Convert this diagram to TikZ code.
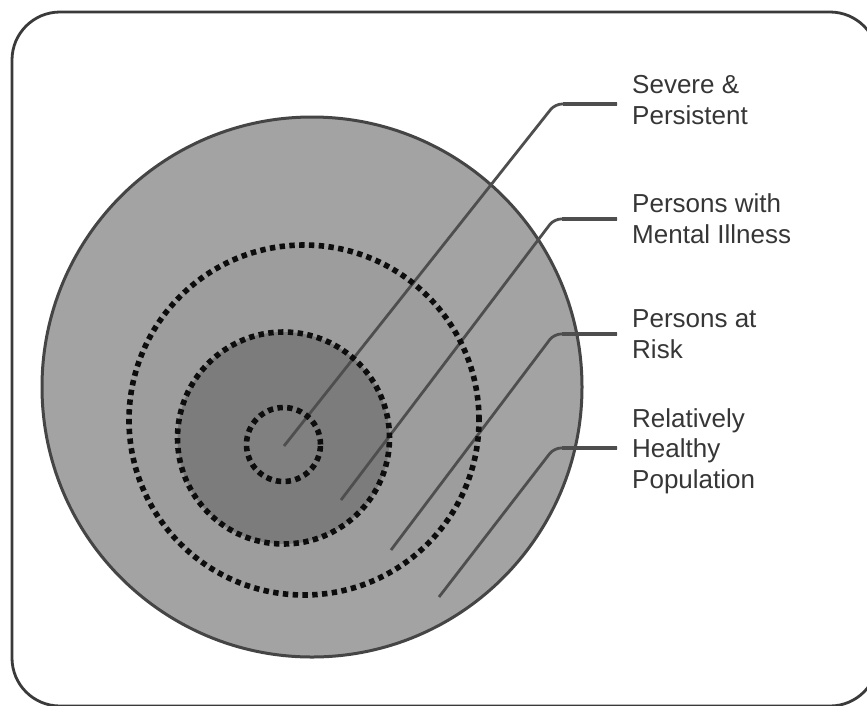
\documentclass[tikz,border=0pt]{standalone}
\usepackage{fontspec}
\setmainfont{Liberation Sans}
\definecolor{outerfill}{HTML}{A3A3A3}
\definecolor{ringfill}{HTML}{9D9D9D}
\definecolor{corefill}{HTML}{7C7C7C}
\definecolor{innerfill}{HTML}{808080}
\definecolor{edgegray}{HTML}{454545}
\definecolor{leadgray}{HTML}{4E4E4E}
\definecolor{textgray}{HTML}{363636}
\definecolor{framegray}{HTML}{3A3A3A}
\begin{document}
\begin{tikzpicture}[x=1pt,y=-1pt,
  disc/.style={circle, inner sep=0pt, outer sep=0pt, minimum size=#1},
  dotring/.style={circle, inner sep=0pt, outer sep=0pt, minimum size=#1,
    draw=black!95, line width=5.6pt, dash pattern=on 5.4pt off 4.4pt},
  leader/.style={draw=leadgray, line width=2.8pt, rounded corners=7pt},
  leaderend/.style={draw=leadgray, line width=4pt},
  lab/.style={anchor=base west, inner sep=0pt, align=left, text=textgray,
    font=\fontsize{26}{30.5}\selectfont}]
\useasboundingbox (0,0) rectangle (867,705);
\clip (0,0) rectangle (867,705);
% frame
\draw[framegray, line width=2.8pt, rounded corners=48pt] (12,12) rectangle (878,706);
% discs
\node[disc=540pt, fill=outerfill, draw=edgegray, line width=3pt] (outer) at (312,387) {};
\node[disc=350pt, fill=ringfill] (risk) at (304,420) {};
\node[disc=212pt, fill=corefill] (ill) at (283.5,438) {};
\node[disc=74pt, fill=innerfill] (severe) at (283.5,444.5) {};
% labels (anchored at the baseline of their last line)
\node[lab] (lab1) at (632,124) {Severe \&\\Persistent};
\node[lab] (lab2) at (632,243) {Persons with\\Mental Illness};
\node[lab] (lab3) at (632,358) {Persons at\\Risk};
\node[lab] (lab4) at (632,488) {Relatively\\Healthy\\Population};
% leader coordinates
\coordinate (s1) at (284,446);
\coordinate (k1) at (555,104);
\coordinate (s2) at (341,500);
\coordinate (k2) at (554,219);
\coordinate (s3) at (391,550);
\coordinate (k3) at (554,334);
\coordinate (s4) at (439,597);
\coordinate (k4) at (554,448);
\coordinate (e1) at ([xshift=-15pt]k1 -| lab1.west);
\coordinate (e2) at ([xshift=-15pt]k2 -| lab2.west);
\coordinate (e3) at ([xshift=-15pt]k3 -| lab3.west);
\coordinate (e4) at ([xshift=-15pt]k4 -| lab4.west);
\foreach \i in {1,2,3,4}{
  \draw[leader] (s\i) -- (k\i) -- (e\i);
  \draw[leaderend] ([xshift=8pt]k\i) -- (e\i);
}
% dotted outlines
\node[dotring=350pt] (riskdots) at (risk) {};
\node[dotring=212pt] (illdots) at (ill) {};
\node[dotring=74pt] (severedots) at (severe) {};
\end{tikzpicture}
\end{document}
